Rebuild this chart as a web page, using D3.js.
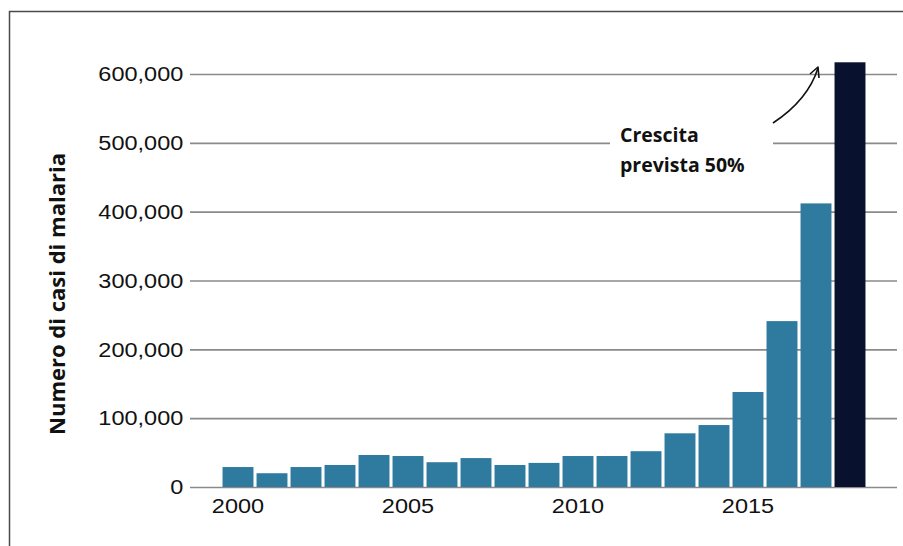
<!DOCTYPE html>
<html>
<head>
<meta charset="utf-8">
<script src="https://cdn.jsdelivr.net/npm/d3@7"></script>
<style>
  body { margin: 0; background: #fff; }
  svg { display: block; }
</style>
</head>
<body>
<div id="chart"></div>
<script>
// casi di malaria per anno (ultimo anno = previsione)
const anni = [2000, 2001, 2002, 2003, 2004, 2005, 2006, 2007, 2008, 2009,
              2010, 2011, 2012, 2013, 2014, 2015, 2016, 2017, 2018];
const casi = [29000, 20000, 29000, 32000, 46500, 45000, 36000, 42000, 32000, 35000,
              45000, 45000, 52000, 78000, 90000, 138000, 241000, 412000, 617000];
const anniPrevisti = [2018];
const yTicks = [0, 100000, 200000, 300000, 400000, 500000, 600000];
const xTicks = [2000, 2005, 2010, 2015];
const titoloY = "Numero di casi di malaria";
const nota = ["Crescita", "prevista 50%"];

const width = 903, height = 546;

const svg = d3.select("#chart").append("svg")
    .attr("width", width)
    .attr("height", height);

// cornice
svg.append("rect")
    .attr("x", 9.5).attr("y", 11.5)
    .attr("width", 1000).attr("height", 1000)
    .attr("fill", "none")
    .attr("stroke", "#4a4a4a")
    .attr("stroke-width", 1.5);

const x = d3.scaleBand()
    .domain(anni)
    .range([221, 221 + anni.length * 34])
    .paddingInner(0.09)
    .paddingOuter(0.045);

const y = d3.scaleLinear()
    .domain([0, 600000])
    .range([487, 74]);

// griglia + etichette asse y
const yAxis = svg.append("g")
    .attr("transform", "translate(190,0)")
    .call(d3.axisLeft(y).tickValues(yTicks).tickSize(0).tickPadding(6)
        .tickFormat(d3.format(",")));
yAxis.select(".domain").remove();
yAxis.selectAll(".tick line")
    .attr("x2", 707)
    .attr("stroke", "#8a8a8a")
    .attr("stroke-width", 1.6);
yAxis.selectAll(".tick text")
    .attr("font-family", "Liberation Sans, Arial, sans-serif")
    .attr("font-size", 21)
    .attr("fill", "#111")
    .attr("transform", "scale(1.12,1)");

// barre
svg.append("g").selectAll("rect")
    .data(anni)
    .enter().append("rect")
    .attr("x", d => x(d))
    .attr("width", x.bandwidth())
    .attr("y", (d, i) => y(casi[i]))
    .attr("height", (d, i) => y(0) - y(casi[i]))
    .attr("fill", d => anniPrevisti.includes(d) ? "#08122e" : "#2f7a9f");

// asse x
const xAxis = svg.append("g")
    .attr("transform", "translate(0,487)")
    .call(d3.axisBottom(x).tickValues(xTicks).tickSize(0).tickPadding(11));
xAxis.select(".domain").remove();
xAxis.selectAll(".tick text")
    .attr("font-family", "Liberation Sans, Arial, sans-serif")
    .attr("font-size", 21)
    .attr("fill", "#111")
    .attr("transform", "scale(1.12,1)");

// titolo asse y
svg.append("text")
    .attr("transform", "translate(65,294) rotate(-90)")
    .attr("text-anchor", "middle")
    .attr("font-family", "Open Sans, sans-serif")
    .attr("font-weight", "bold")
    .attr("font-size", 22)
    .attr("fill", "#111")
    .text(titoloY);

// nota con sfondo bianco
svg.append("rect")
    .attr("x", 610).attr("y", 118)
    .attr("width", 163).attr("height", 62)
    .attr("fill", "#fff");

svg.append("text")
    .attr("x", 620).attr("y", 142)
    .attr("font-family", "Open Sans, sans-serif")
    .attr("font-weight", "bold")
    .attr("font-size", 19.5)
    .attr("fill", "#111")
    .selectAll("tspan")
    .data(nota)
    .enter().append("tspan")
    .attr("x", 620)
    .attr("dy", (d, i) => i === 0 ? 0 : 30)
    .text(d => d);

// freccia
svg.append("path")
    .attr("d", "M773,123 Q808,100 818,68")
    .attr("fill", "none")
    .attr("stroke", "#111")
    .attr("stroke-width", 1.6);
svg.append("path")
    .attr("d", "M810,74 L818,67 L819,78")
    .attr("fill", "none")
    .attr("stroke", "#111")
    .attr("stroke-width", 1.6)
    .attr("stroke-linejoin", "round");
</script>
</body>
</html>
